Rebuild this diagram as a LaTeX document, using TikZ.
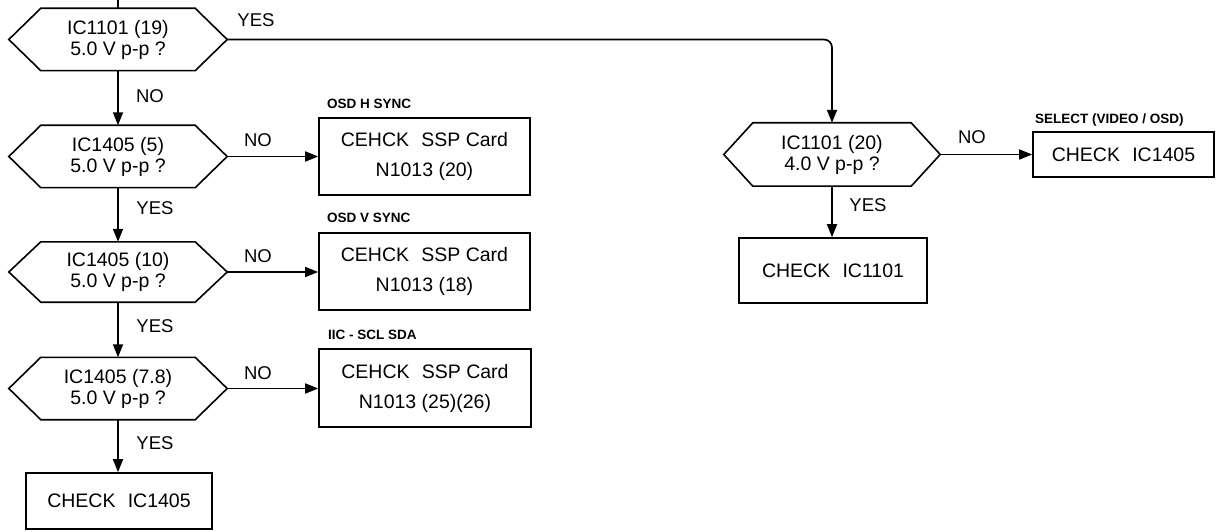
\documentclass[tikz,border=0pt]{standalone}
\usepackage{fontspec}
\setmainfont{Liberation Sans}
\usetikzlibrary{arrows.meta}
\tikzset{
  hexa/.style={minimum width=218pt, minimum height=62pt, inner sep=0pt, align=center,
    font=\fontsize{19.5}{21}\selectfont},
  cbox/.style={draw, line width=1.6pt, inner sep=0pt, align=center,
    font=\fontsize{19.5}{30}\selectfont},
  lbl/.style={font=\fontsize{18.5}{20}\selectfont, inner sep=0pt},
  tag/.style={font=\bfseries\fontsize{13.5}{15}\selectfont, inner sep=0pt, anchor=west},
  arr/.style={line width=1.7pt, -{Triangle[length=13pt,width=10pt]}},
  ln/.style={line width=1.6pt},
}
\newcommand{\hexdraw}[2]{%
  \draw[ln] (#1.west) -- ([xshift=#2pt]#1.north west) -- ([xshift=-#2pt]#1.north east)
    -- (#1.east) -- ([xshift=-#2pt]#1.south east) -- ([xshift=#2pt]#1.south west) -- cycle;}
\begin{document}
\begin{tikzpicture}[x=1pt,y=-1pt]
\useasboundingbox (0,0) rectangle (1219,532);
% left column decisions
\node[hexa] (h1) at (118,39.5) {IC1101 (19)\\5.0 V p-p ?};
\node[hexa] (h2) at (118,156.5) {IC1405 (5)\\5.0 V p-p ?};
\node[hexa, minimum height=60pt] (h3) at (118,272) {IC1405 (10)\\5.0 V p-p ?};
\node[hexa] (h4) at (118,388.5) {IC1405 (7.8)\\5.0 V p-p ?};
\hexdraw{h1}{32}
\hexdraw{h2}{32}
\hexdraw{h3}{32}
\hexdraw{h4}{32}
% right decision
\node[hexa, minimum width=216pt, minimum height=63pt] (h5) at (832,154.5) {IC1101 (20)\\4.0 V p-p ?};
\hexdraw{h5}{29}
% boxes
\node[cbox, minimum width=211pt, minimum height=77pt] (b1) at (424.5,156.5) {CEHCK\hspace{0.35em} SSP Card\\N1013 (20)};
\node[cbox, minimum width=211pt, minimum height=77pt] (b2) at (424.5,271.5) {CEHCK\hspace{0.35em} SSP Card\\N1013 (18)};
\node[cbox, minimum width=212pt, minimum height=78pt] (b3) at (425,388) {CEHCK\hspace{0.35em} SSP Card\\N1013 (25)(26)};
\node[cbox, minimum width=186pt, minimum height=56pt] (b4) at (119,501) {CHECK\hspace{0.35em} IC1405};
\node[cbox, minimum width=181pt, minimum height=45pt] (b5) at (1123.5,154.5) {CHECK\hspace{0.35em} IC1405};
\node[cbox, minimum width=188pt, minimum height=65pt] (b6) at (833,270.5) {CHECK\hspace{0.35em} IC1101};
% tags above boxes
\node[tag] (t1) at (327,104) {OSD H SYNC};
\node[tag] (t2) at (327,218) {OSD V SYNC};
\node[tag] (t3) at (328,335) {IIC - SCL SDA};
\node[tag] (t4) at (1035,120) {SELECT (VIDEO / OSD)};
% connectors
\coordinate (top) at (118,0);
\draw[ln] (top) -- (h1.north);
\draw[arr] (h1.south) -- (h2.north);
\draw[arr] (h2.south) -- (h3.north);
\draw[arr] (h3.south) -- (h4.north);
\draw[arr] (h4.south) -- (h4.south |- b4.north);
\draw[arr] (h2.east) -- (h2.east -| b1.west);
\draw[arr] (h3.east) -- (h3.east -| b2.west);
\draw[arr] (h4.east) -- (h4.east -| b3.west);
\draw[arr, rounded corners=8pt] (h1.east) -| (h5.north);
\draw[arr] (h5.east) -- (h5.east -| b5.west);
\draw[arr] (h5.south) -- (h5.south |- b6.north);
% branch labels
\node[lbl] (y1) at (256,20) {YES};
\node[lbl] (n1) at (150,96) {NO};
\node[lbl] (y2) at (155,208) {YES};
\node[lbl] (y3) at (155,326) {YES};
\node[lbl] (y4) at (155,443) {YES};
\node[lbl] (n2) at (258,140) {NO};
\node[lbl] (n3) at (258,256) {NO};
\node[lbl] (n4) at (258,373) {NO};
\node[lbl] (n5) at (972,137) {NO};
\node[lbl] (y5) at (868,205) {YES};
\end{tikzpicture}
\end{document}
